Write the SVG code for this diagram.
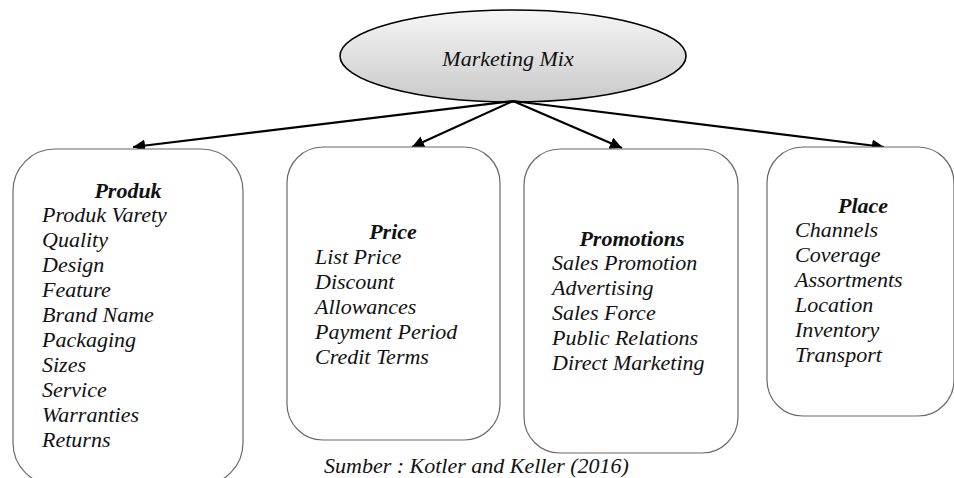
<svg xmlns="http://www.w3.org/2000/svg" width="954" height="478" viewBox="0 0 954 478">
<style>
  .box { fill: #ffffff; stroke: #6a6a6a; stroke-width: 1.2; }
  .t { font-family: "Liberation Serif", "Times New Roman", serif; font-style: italic; font-size: 22px; fill: #111; }
  .h { font-weight: bold; text-anchor: middle; }
  .conn { stroke: #000; stroke-width: 2.2; fill: none; }
</style>
<defs>
  <linearGradient id="g" x1="0" y1="0" x2="0" y2="1">
    <stop offset="0" stop-color="#f6f6f6"/>
    <stop offset="1" stop-color="#c9c9c9"/>
  </linearGradient>
  <marker id="ah" viewBox="0 0 10 10" refX="10" refY="5" markerWidth="5.5" markerHeight="5.5" orient="auto" markerUnits="strokeWidth">
    <path d="M0,0 L10,5 L0,10 z" fill="#000"/>
  </marker>
</defs>
<rect width="954" height="478" fill="#ffffff"/>

<g id="marketing-mix">
  <ellipse cx="513" cy="56" rx="173" ry="46" fill="url(#g)" stroke="#000" stroke-width="1.6"/>
  <text class="t" x="508" y="66" text-anchor="middle" font-size="30">Marketing Mix</text>
</g>

<g id="connectors">
  <line class="conn" x1="513" y1="101" x2="133" y2="147" marker-end="url(#ah)"/>
  <line class="conn" x1="513" y1="101" x2="412" y2="147" marker-end="url(#ah)"/>
  <line class="conn" x1="513" y1="101" x2="622" y2="148" marker-end="url(#ah)"/>
  <line class="conn" x1="513" y1="101" x2="884" y2="147" marker-end="url(#ah)"/>
</g>

<g id="produk">
  <rect class="box" x="13" y="149" width="230" height="336" rx="42"/>
  <text class="t h" x="128" y="198">Produk</text>
  <text class="t" x="42" y="222">Produk Varety</text>
  <text class="t" x="42" y="247">Quality</text>
  <text class="t" x="42" y="272">Design</text>
  <text class="t" x="42" y="297">Feature</text>
  <text class="t" x="42" y="322">Brand Name</text>
  <text class="t" x="42" y="347">Packaging</text>
  <text class="t" x="42" y="372">Sizes</text>
  <text class="t" x="42" y="397">Service</text>
  <text class="t" x="42" y="422">Warranties</text>
  <text class="t" x="42" y="447">Returns</text>
</g>

<g id="price">
  <rect class="box" x="287" y="147" width="213" height="293" rx="36"/>
  <text class="t h" x="393" y="239">Price</text>
  <text class="t" x="315" y="264">List Price</text>
  <text class="t" x="315" y="289">Discount</text>
  <text class="t" x="315" y="314">Allowances</text>
  <text class="t" x="315" y="339">Payment Period</text>
  <text class="t" x="315" y="364">Credit Terms</text>
</g>

<g id="promotions">
  <rect class="box" x="524" y="149" width="214" height="304" rx="36"/>
  <text class="t h" x="632" y="246">Promotions</text>
  <text class="t" x="552" y="270">Sales Promotion</text>
  <text class="t" x="552" y="295">Advertising</text>
  <text class="t" x="552" y="320">Sales Force</text>
  <text class="t" x="552" y="345">Public Relations</text>
  <text class="t" x="552" y="370">Direct Marketing</text>
</g>

<g id="place">
  <rect class="box" x="767" y="147" width="187" height="269" rx="36"/>
  <text class="t h" x="863" y="213">Place</text>
  <text class="t" x="795" y="237">Channels</text>
  <text class="t" x="795" y="262">Coverage</text>
  <text class="t" x="795" y="287">Assortments</text>
  <text class="t" x="795" y="312">Location</text>
  <text class="t" x="795" y="337">Inventory</text>
  <text class="t" x="795" y="362">Transport</text>
</g>

<g id="source">
  <text class="t" x="324" y="473">Sumber : Kotler and Keller (2016)</text>
</g>
</svg>
